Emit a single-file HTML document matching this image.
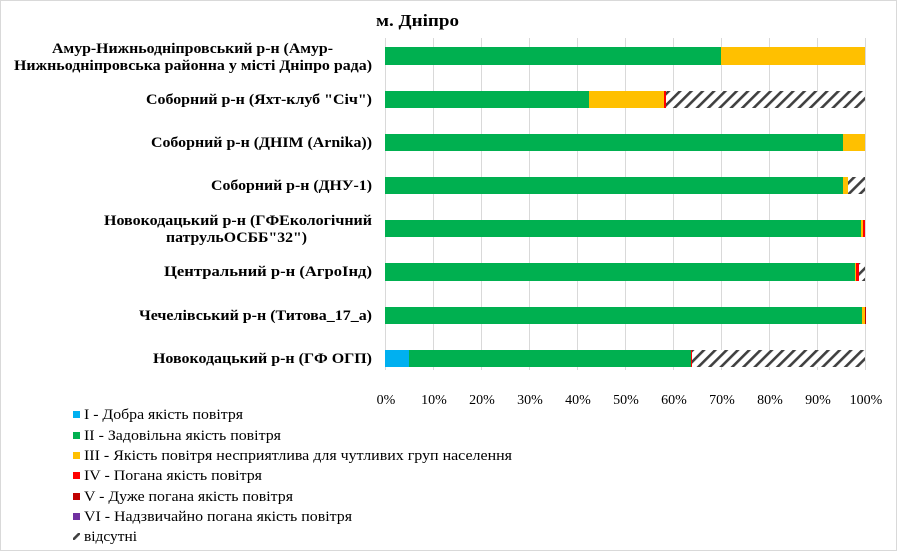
<!DOCTYPE html>
<html><head><meta charset="utf-8"><style>
html,body{margin:0;padding:0;background:#fff}
svg{display:block}
text{font-family:"Liberation Serif","DejaVu Serif",serif;fill:#000}
.l{font-size:15px;font-weight:bold;text-anchor:end}
.c{font-size:15px;font-weight:bold}
.t{font-size:14px;text-anchor:middle}
.g{font-size:15px}
</style></head><body>
<svg width="897" height="551" viewBox="0 0 897 551" xmlns="http://www.w3.org/2000/svg">
<defs>
<pattern id="h" patternUnits="userSpaceOnUse" width="8" height="8" patternTransform="rotate(45)">
<rect width="8" height="8" fill="#fff"/><rect x="0" y="0" width="2.6" height="8" fill="#404040"/>
</pattern>
</defs>
<rect x="0.5" y="0.5" width="896" height="550" fill="#fff" stroke="#d9d9d9"/>
<text x="376" y="26" style="font-size:16.5px;font-weight:bold" textLength="83" lengthAdjust="spacingAndGlyphs">м. Дніпро</text>
<g stroke="#d9d9d9" stroke-width="1">
<line x1="433.5" y1="38" x2="433.5" y2="370"/><line x1="481.5" y1="38" x2="481.5" y2="370"/>
<line x1="529.5" y1="38" x2="529.5" y2="370"/><line x1="577.5" y1="38" x2="577.5" y2="370"/>
<line x1="625.5" y1="38" x2="625.5" y2="370"/><line x1="673.5" y1="38" x2="673.5" y2="370"/>
<line x1="721.5" y1="38" x2="721.5" y2="370"/><line x1="769.5" y1="38" x2="769.5" y2="370"/>
<line x1="817.5" y1="38" x2="817.5" y2="370"/><line x1="865.5" y1="38" x2="865.5" y2="370"/>
<line x1="385.5" y1="38" x2="385.5" y2="370"/>
</g>
<rect x="385" y="47" width="336" height="18" fill="#00b050"/><rect x="721" y="47" width="144" height="18" fill="#ffc000"/>
<rect x="385" y="91" width="204" height="17" fill="#00b050"/><rect x="589" y="91" width="75" height="17" fill="#ffc000"/><rect x="664" y="91" width="2" height="17" fill="#ff0000"/><rect x="666" y="91" width="199" height="17" fill="url(#h)"/>
<rect x="385" y="134" width="458" height="17" fill="#00b050"/><rect x="843" y="134" width="22" height="17" fill="#ffc000"/>
<rect x="385" y="177" width="458" height="17" fill="#00b050"/><rect x="843" y="177" width="5" height="17" fill="#ffc000"/><rect x="848" y="177" width="17" height="17" fill="url(#h)"/>
<rect x="385" y="220" width="476" height="17" fill="#00b050"/><rect x="861" y="220" width="2" height="17" fill="#ffc000"/><rect x="863" y="220" width="2" height="17" fill="#ff0000"/>
<rect x="385" y="263" width="470" height="18" fill="#00b050"/><rect x="855" y="263" width="1" height="18" fill="#ffc000"/><rect x="856" y="263" width="3" height="18" fill="#ff0000"/><rect x="859" y="263" width="6" height="18" fill="url(#h)"/>
<rect x="385" y="307" width="477" height="17" fill="#00b050"/><rect x="862" y="307" width="3" height="17" fill="#ffc000"/><rect x="865" y="307" width="1" height="17" fill="#c00000"/>
<rect x="385" y="350" width="24" height="17" fill="#00b0f0"/><rect x="409" y="350" width="282" height="17" fill="#00b050"/><rect x="691" y="350" width="1" height="17" fill="#ff0000"/><rect x="692" y="350" width="173" height="17" fill="url(#h)"/>
<text class="c" x="52" y="53" textLength="281" lengthAdjust="spacingAndGlyphs">Амур-Нижньодніпровський  р-н (Амур-</text>
<text class="c" x="14" y="70" textLength="358" lengthAdjust="spacingAndGlyphs">Нижньодніпровська районна у місті Дніпро рада)</text>
<text class="l" x="372" y="104" textLength="226" lengthAdjust="spacingAndGlyphs">Соборний р-н (Яхт-клуб "Січ")</text>
<text class="l" x="372" y="147" textLength="221" lengthAdjust="spacingAndGlyphs">Соборний  р-н (ДНІМ (Arnika))</text>
<text class="l" x="372" y="190" textLength="161" lengthAdjust="spacingAndGlyphs">Соборний  р-н (ДНУ-1)</text>
<text class="c" x="104" y="225" textLength="268" lengthAdjust="spacingAndGlyphs">Новокодацький р-н (ГФЕкологічний</text>
<text class="c" x="166" y="242" textLength="141" lengthAdjust="spacingAndGlyphs">патрульОСББ"32")</text>
<text class="l" x="372" y="276" textLength="208" lengthAdjust="spacingAndGlyphs">Центральний р-н (АгроІнд)</text>
<text class="l" x="372" y="320" textLength="233" lengthAdjust="spacingAndGlyphs">Чечелівський р-н (Титова_17_а)</text>
<text class="l" x="372" y="363" textLength="219" lengthAdjust="spacingAndGlyphs">Новокодацький р-н (ГФ ОГП)</text>
<text class="t" x="386" y="404">0%</text><text class="t" x="434" y="404">10%</text><text class="t" x="482" y="404">20%</text>
<text class="t" x="530" y="404">30%</text><text class="t" x="578" y="404">40%</text><text class="t" x="626" y="404">50%</text>
<text class="t" x="674" y="404">60%</text><text class="t" x="722" y="404">70%</text><text class="t" x="770" y="404">80%</text>
<text class="t" x="818" y="404">90%</text><text class="t" x="866" y="404">100%</text>
<rect x="73" y="411" width="7" height="7" fill="#00b0f0"/><text class="g" x="84" y="419" textLength="159" lengthAdjust="spacingAndGlyphs">I - Добра якість  повітря</text>
<rect x="73" y="432" width="7" height="7" fill="#00b050"/><text class="g" x="84" y="440" textLength="197" lengthAdjust="spacingAndGlyphs">II - Задовільна якість  повітря</text>
<rect x="73" y="452" width="7" height="7" fill="#ffc000"/><text class="g" x="84" y="460" textLength="428" lengthAdjust="spacingAndGlyphs">III - Якість  повітря  несприятлива для чутливих груп  населення</text>
<rect x="73" y="472" width="7" height="7" fill="#ff0000"/><text class="g" x="84" y="480" textLength="178" lengthAdjust="spacingAndGlyphs">IV - Погана якість  повітря</text>
<rect x="73" y="493" width="7" height="7" fill="#c00000"/><text class="g" x="84" y="501" textLength="209" lengthAdjust="spacingAndGlyphs">V  - Дуже погана якість  повітря</text>
<rect x="73" y="513" width="7" height="7" fill="#7030a0"/><text class="g" x="84" y="521" textLength="268" lengthAdjust="spacingAndGlyphs">VI - Надзвичайно погана якість  повітря</text>
<rect x="73" y="533" width="7" height="7" fill="url(#h)"/><text class="g" x="84" y="541" textLength="53" lengthAdjust="spacingAndGlyphs">відсутні</text>
</svg>
</body></html>
